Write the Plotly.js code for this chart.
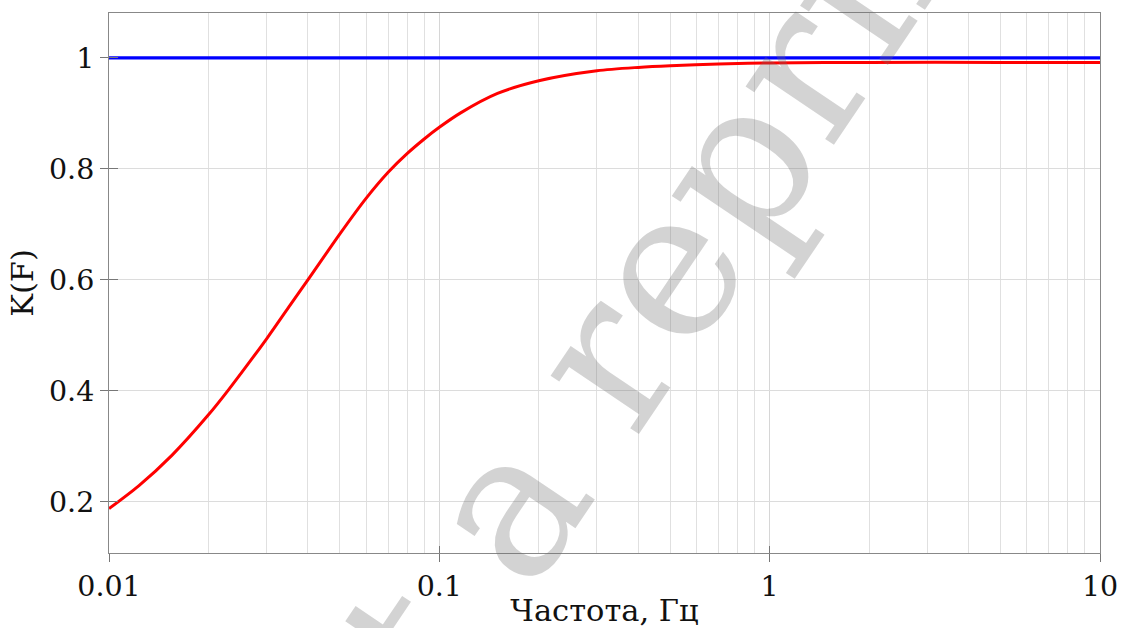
<!DOCTYPE html>
<html>
<head>
<meta charset="utf-8">
<script src="https://cdn.plot.ly/plotly-3.0.1.min.js"></script>
<style>html,body{margin:0;padding:0;background:#fff;}#chart{width:1123px;height:628px;}</style>
</head>
<body>
<div id="chart"></div>
<script>
// Frequency (Hz) and transfer coefficient
const freqRed = [0.01, 0.0123, 0.0155, 0.02, 0.023, 0.03, 0.035, 0.04, 0.05, 0.06, 0.07, 0.08, 0.09, 0.1, 0.116, 0.15, 0.2, 0.3, 0.4, 0.5, 0.7, 1, 2, 5, 10];
const kRed    = [0.188, 0.229, 0.284, 0.357, 0.402, 0.494, 0.551, 0.600, 0.683, 0.747, 0.794, 0.828, 0.854, 0.875, 0.901, 0.936, 0.959, 0.977, 0.983, 0.986, 0.989, 0.991, 0.992, 0.992, 0.992];
const freqBlue = [0.01, 10];
const kBlue    = [1, 1];

const xTickVals = [0.01, 0.1, 1, 10];
const xTickText = ['0.01', '0.1', '1', '10'];
const yTickVals = [0.2, 0.4, 0.6, 0.8, 1];
const yTickText = ['0.2', '0.4', '0.6', '0.8', '1'];
const xTitle = 'Частота, Гц';
const yTitle = 'K(F)';
const watermark = 'Not a reprint';

const minorVals = [];
[0.01, 0.1, 1].forEach(d => { for (let m = 2; m <= 9; m++) minorVals.push(+(d * m).toPrecision(3)); });

const fontFam = 'DejaVu Serif, Liberation Serif, serif';
const tickFont = {family: fontFam, size: 28.5, color: '#111'};
const titleFont = {family: fontFam, size: 30.5, color: '#111'};
const xRange = [-2, 1];
const yRange = [0.108, 1.081];

const data = [
  {x: freqRed, y: kRed, type: 'scatter', mode: 'lines', line: {color: '#ff0000', width: 3, shape: 'spline', smoothing: 0.8}, xaxis: 'x', yaxis: 'y', hoverinfo: 'skip'},
  {x: freqBlue, y: kBlue, type: 'scatter', mode: 'lines', line: {color: '#0000ff', width: 3.2}, xaxis: 'x2', yaxis: 'y2', hoverinfo: 'skip'}
];

const layout = {
  width: 1123, height: 628,
  margin: {l: 109, r: 23, t: 13, b: 75},
  paper_bgcolor: '#ffffff', plot_bgcolor: '#ffffff',
  showlegend: false,
  xaxis: {
    type: 'log', range: xRange, tickmode: 'array', tickvals: xTickVals, ticktext: xTickText,
    ticks: 'outside', ticklen: 8, tickwidth: 1, tickcolor: '#777',
    showline: true, mirror: true, linecolor: '#888', linewidth: 1,
    showgrid: true, gridcolor: '#d6d6d6', gridwidth: 1, zeroline: false,
    minor: {tickmode: 'array', tickvals: minorVals, showgrid: true, gridcolor: '#e0e0e0', gridwidth: 1, ticks: ''},
    tickfont: tickFont,
    title: {text: xTitle, font: titleFont, standoff: 3},
    automargin: false
  },
  yaxis: {
    range: yRange, tickmode: 'array', tickvals: yTickVals, ticktext: yTickText,
    ticks: 'outside', ticklen: 8, tickwidth: 1, tickcolor: '#777',
    showline: true, mirror: true, linecolor: '#888', linewidth: 1,
    showgrid: true, gridcolor: '#dcdcdc', gridwidth: 1, zeroline: false,
    tickfont: tickFont,
    title: {text: yTitle, font: titleFont, standoff: 6},
    automargin: false
  },
  xaxis2: {
    type: 'log', range: xRange, overlaying: 'x', anchor: 'y2', side: 'bottom',
    tickmode: 'array', tickvals: xTickVals, ticks: 'inside', ticklen: 7, tickwidth: 1, tickcolor: '#777',
    showticklabels: false, showgrid: false, showline: false, zeroline: false
  },
  yaxis2: {
    range: yRange, overlaying: 'y', anchor: 'x2', side: 'left',
    tickmode: 'array', tickvals: yTickVals, ticks: 'inside', ticklen: 9, tickwidth: 1, tickcolor: '#777',
    showticklabels: false, showgrid: false, showline: false, zeroline: false
  },
  annotations: [{
    text: watermark, xref: 'paper', yref: 'paper', x: 0.496, y: 0.35,
    xanchor: 'center', yanchor: 'middle', showarrow: false, textangle: -56,
    font: {family: fontFam, size: 204, color: 'rgba(110,110,110,0.30)'}
  }]
};

Plotly.newPlot('chart', data, layout, {staticPlot: true, displayModeBar: false});
</script>
</body>
</html>
